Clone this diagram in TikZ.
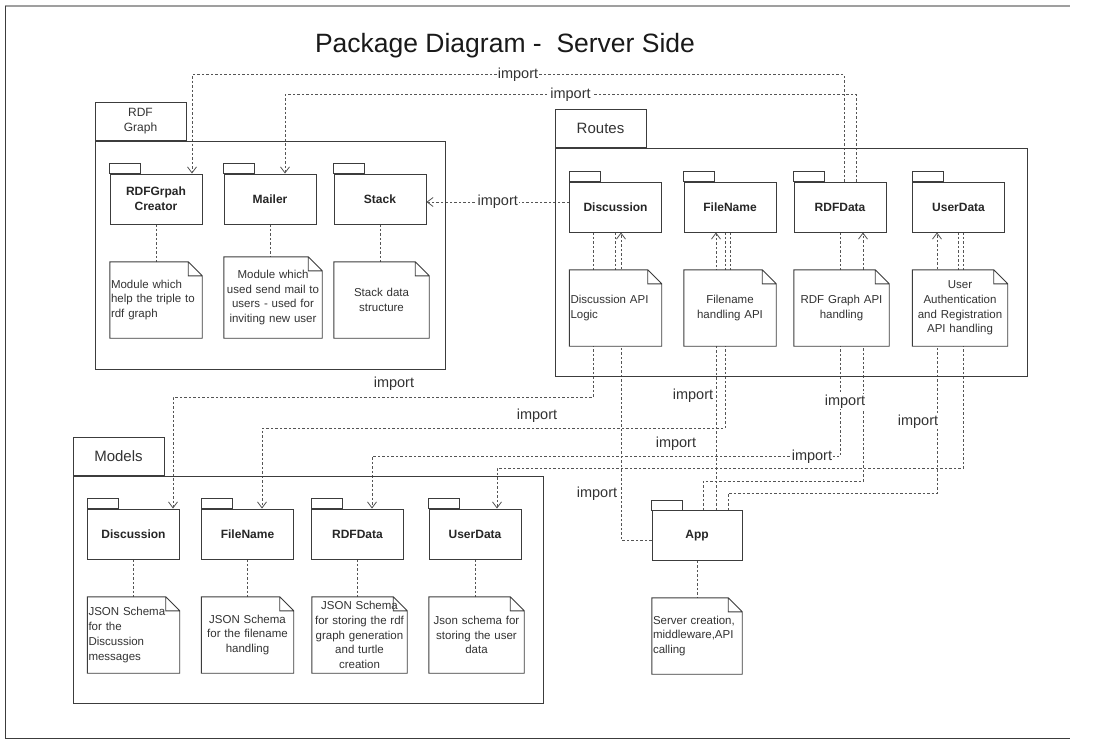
\documentclass[tikz,border=0pt]{standalone}
\usepackage{fontspec}
\setmainfont{Liberation Sans}
\usetikzlibrary{arrows.meta}
\pgfdeclarelayer{bg}
\pgfsetlayers{bg,main}
\definecolor{linec}{HTML}{3C3C3C}
\definecolor{dashc}{HTML}{555555}
\definecolor{textc}{HTML}{333333}

\begin{document}
\begin{tikzpicture}[x=1pt,y=-1pt,
    pkg/.style={draw=linec, line width=0.9pt, fill=white, minimum width=92pt, minimum height=50pt,
      inner sep=1pt, align=center, font=\bfseries\fontsize{12}{15}\selectfont, text=black!85},
    bigpkg/.style={draw=linec, line width=0.9pt},
    bigtab/.style={draw=linec, line width=0.9pt, minimum width=91pt, minimum height=38pt, inner sep=1pt,
      align=center, text=textc, font=\fontsize{15}{15}\selectfont},
    note/.style={fill=white, text width=#1, inner xsep=1pt, inner ysep=0pt, minimum height=76pt,
      align=center, text=textc, font=\fontsize{11.5}{14.7}\selectfont},
    notebox/.style={draw=linec, line width=0.9pt},
    link/.style={draw=dashc, line width=0.8pt, dash pattern=on 2.5pt off 2pt},
    imp/.style={link, -{Straight Barb[length=6pt,width=9pt]}},
    lbl/.style={inner sep=1pt, text=textc, font=\fontsize{14.5}{16}\selectfont}]

    \useasboundingbox (0,0) rectangle (1099,752);
    \draw[gray!75, line width=1.2pt] (5,6) -- (1070,6);
    \draw[linec, line width=1pt] (5,6) -- (5,738) -- (1070,738);

    \node[font=\fontsize{26.5}{30}\selectfont, text=black!90] at (505,46) (title) {Package Diagram - \ Server Side};

    \node[bigpkg, minimum width=350pt, minimum height=228pt] at (270,255) (rdf) {};
    \node[bigtab, anchor=south west, font=\fontsize{12}{15}\selectfont] at (rdf.north west) (rdftab) {RDF\\Graph};
    \node[bigpkg, minimum width=472pt, minimum height=228pt] at (791,262) (routes) {};
    \node[bigtab, anchor=south west] at (routes.north west) (routestab) {Routes};
    \node[bigpkg, minimum width=470pt, minimum height=227pt] at (308,589.5) (models) {};
    \node[bigtab, anchor=south west] at (models.north west) (modelstab) {Models};

    \node[pkg] at (156,199) (creator) {RDFGrpah\\Creator};
    \node[pkg] at (270,199) (mailer) {Mailer};
    \node[pkg] at (380,199) (stack) {Stack};
    \node[pkg] at (615.5,207) (rDisc) {Discussion};
    \node[pkg] at (730,207) (rFile) {FileName};
    \node[pkg] at (840,207) (rRdf) {RDFData};
    \node[pkg] at (958.5,207) (rUser) {UserData};
    \node[pkg] at (133.5,534) (mDisc) {Discussion};
    \node[pkg] at (247.5,534) (mFile) {FileName};
    \node[pkg] at (357.5,534) (mRdf) {RDFData};
    \node[pkg] at (475,534) (mUser) {UserData};
    \node[pkg, minimum width=90pt] at (697,535.5) (app) {App};

    \node[note=90pt, align=left] at (156,300) (creator-n) {Module which\\help the triple to\\rdf graph};
    \node[note=96pt, minimum height=81pt] at (273,297.5) (mailer-n) {Module which\\used send mail to\\users - used for\\inviting new user};
    \node[note=93pt] at (381.5,300) (stack-n) {Stack data\\structure};
    \node[note=90pt, align=left] at (615.5,308) (rDisc-n) {Discussion API\\Logic};
    \node[note=90pt] at (730,308) (rFile-n) {Filename\\handling API};
    \node[note=93pt] at (841.5,308) (rRdf-n) {RDF Graph API\\handling};
    \node[note=93pt] at (960,308) (rUser-n) {User\\Authentication\\and Registration\\API handling};
    \node[note=90pt, align=left] at (133.5,635) (mDisc-n) {JSON Schema\\for the\\Discussion\\messages};
    \node[note=90pt] at (247.5,635) (mFile-n) {JSON Schema\\for the filename\\handling};
    \node[note=93pt] at (359.5,635) (mRdf-n) {JSON Schema\\for storing the rdf\\graph generation\\and turtle\\creation};
    \node[note=93pt] at (476.5,635) (mUser-n) {Json schema for\\storing the user\\data};
    \node[note=88pt, align=left] at (697,636) (app-n) {Server creation,\\middleware,API\\calling};

    \foreach \p in {creator,mailer,stack,rDisc,rFile,rRdf,rUser,mDisc,mFile,mRdf,mUser,app}
      \draw[notebox, fill=white] (\p.north west) rectangle ++(31,-10);

    \foreach \n in {creator-n,mailer-n,stack-n,rDisc-n,rFile-n,rRdf-n,rUser-n,mDisc-n,mFile-n,mRdf-n,mUser-n,app-n}
      \draw[notebox] (\n.north west) -- ([xshift=-14pt]\n.north east) -- ([yshift=-14pt]\n.north east)
        -- (\n.south east) -- (\n.south west) -- cycle
        ([xshift=-14pt]\n.north east) |- ([yshift=-14pt]\n.north east);

    \begin{pgfonlayer}{bg}
    \foreach \p in {creator,mailer,stack,rDisc,rFile,rRdf,rUser,mDisc,mFile,mRdf,mUser,app}
      \draw[link] (\p.south) -- (\p.south |- \p-n.north);

    \coordinate (dst) at ([yshift=5pt]rDisc.west);
    \draw[imp] (dst) -- node[lbl, fill=white] {import} (dst -| stack.east);
    \draw[imp] ([xshift=4pt]rRdf.north) -- ++(0,-107) -| node[pos=0.25, lbl, fill=white] {import} ([xshift=36pt]creator.north);
    \draw[imp] ([xshift=16pt]rRdf.north) -- ++(0,-87) -| node[pos=0.25, lbl, fill=white] {import} ([xshift=15pt]mailer.north);

    \draw[imp] ([xshift=-22.5pt]rDisc.south) -- ++(0,165) -| node[pos=0.237, lbl, yshift=14pt] {import} ([xshift=39.5pt]mDisc.north);
    \draw[imp] ([xshift=-5pt]rFile.south) -- ++(0,196) -| node[pos=0.203, lbl, yshift=13pt] {import} ([xshift=14.5pt]mFile.north);
    \draw[imp] (rRdf.south) -- ++(0,224) -| node[pos=0.03, lbl, fill=white] {import} ([xshift=14.5pt]mRdf.north);
    \draw[imp] ([xshift=4.5pt]rUser.south) -- ++(0,236) -| node[pos=0.308, lbl, yshift=25pt] {import} ([xshift=22pt]mUser.north);

    \draw[imp] ([yshift=-4.5pt]app.west) -| node[pos=0.575, lbl, xshift=-24pt] {import} ([xshift=5.5pt]rDisc.south);
    \draw[imp] ([xshift=19pt]app.north) -- node[pos=0.41, lbl, xshift=-23pt] {import} ([xshift=-14pt]rFile.south);
    \draw[imp] ([xshift=6pt]app.north) -- ++(0,-29) -| node[pos=0.66, lbl, fill=white, xshift=-18pt] {import} ([xshift=23pt]rRdf.south);
    \draw[imp] ([xshift=31pt]app.north) -- ++(0,-17) -| node[pos=0.637, lbl, fill=white, xshift=-19pt] {import} ([xshift=-21.5pt]rUser.south);
    \end{pgfonlayer}
\end{tikzpicture}
\end{document}
